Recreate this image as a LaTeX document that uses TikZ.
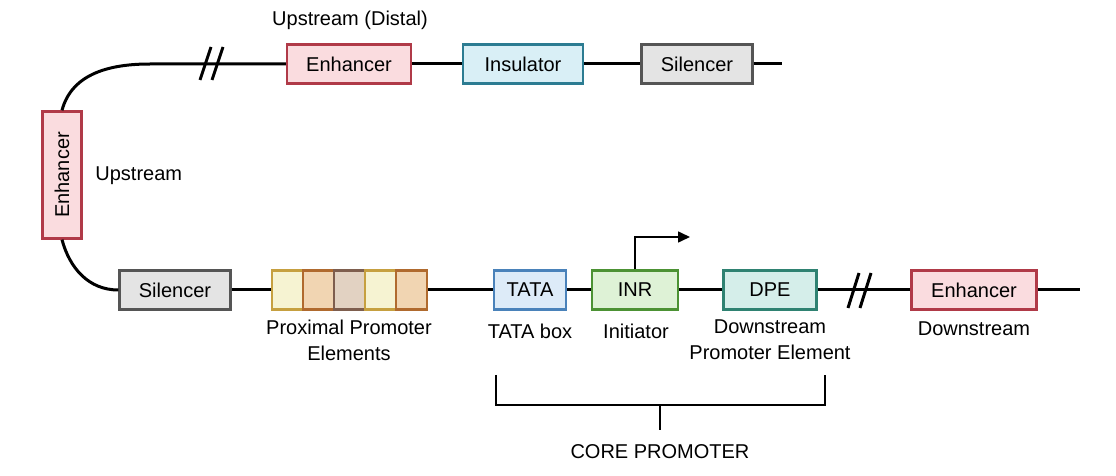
\documentclass[tikz,border=0pt]{standalone}
\usepackage{fontspec}
\setmainfont{Liberation Sans}
\usetikzlibrary{arrows.meta}

\definecolor{enhline}{HTML}{B03A48}
\definecolor{enhfill}{HTML}{FADCDF}
\definecolor{insline}{HTML}{2C7C92}
\definecolor{insfill}{HTML}{D9EFF6}
\definecolor{silline}{HTML}{555555}
\definecolor{silfill}{HTML}{E4E4E4}
\definecolor{tatline}{HTML}{4A82BA}
\definecolor{tatfill}{HTML}{DDEBF8}
\definecolor{inrline}{HTML}{4C9234}
\definecolor{inrfill}{HTML}{DEF2D6}
\definecolor{dpeline}{HTML}{2F8272}
\definecolor{dpefill}{HTML}{D5EEEA}
\definecolor{ylwline}{HTML}{C6A040}
\definecolor{ylwfill}{HTML}{F6F3D2}
\definecolor{orgline}{HTML}{B06A2E}
\definecolor{orgfill}{HTML}{F1D5B2}
\definecolor{brnline}{HTML}{7E5E4E}
\definecolor{brnfill}{HTML}{E2D2C2}

\tikzset{
  dna/.style={line width=1.5pt, black},
  elem/.style={draw, line width=1.2pt, minimum height=19.5pt, inner sep=0pt, font=\fontsize{10}{12}\selectfont},
  enhbox/.style={elem, draw=enhline, fill=enhfill},
  insbox/.style={elem, draw=insline, fill=insfill},
  silbox/.style={elem, draw=silline, fill=silfill},
  ppebox/.style={elem, minimum width=15.5pt},
  lbl/.style={font=\fontsize{10}{12}\selectfont, align=center, inner sep=0pt},
  brk/.style={line width=1.5pt, black}
}

\begin{document}
\begin{tikzpicture}[x=0.5pt, y=-0.5pt]
  \useasboundingbox (0,0) rectangle (1116,476);

  % Upstream (distal) line
  \node[enhbox, minimum width=62pt] (enhUp) at (349,64) {Enhancer};
  \node[insbox, minimum width=60pt] (insul) at (523,64) {Insulator};
  \node[silbox, minimum width=55.5pt] (silUp) at (697,64) {Silencer};
  \node[lbl] (lblDistal) at (350,20) {Upstream (Distal)};

  % Bent part on the left
  \node[enhbox, minimum width=63.5pt, rotate=90] (enhLeft) at (62,175) {Enhancer};
  \node[lbl, anchor=west] (lblUp) at (95,176) {Upstream};

  % Lower line
  \node[silbox, minimum width=55.5pt] (silDown) at (175,290) {Silencer};
  \node[ppebox, draw=ylwline, fill=ylwfill] (ppeA) at (287.5,290) {};
  \node[ppebox, draw=orgline, fill=orgfill] (ppeB) at (318.5,290) {};
  \node[ppebox, draw=brnline, fill=brnfill] (ppeC) at (349.5,290) {};
  \node[ppebox, draw=ylwline, fill=ylwfill] (ppeD) at (380.5,290) {};
  \node[ppebox, draw=orgline, fill=orgfill] (ppeE) at (411.5,290) {};
  \node[elem, draw=tatline, fill=tatfill, minimum width=36pt] (tata) at (530,290) {TATA};
  \node[elem, draw=inrline, fill=inrfill, minimum width=43pt] (inr) at (635,290) {INR};
  \node[elem, draw=dpeline, fill=dpefill, minimum width=46.5pt] (dpe) at (770,290) {DPE};
  \node[enhbox, minimum width=62.5pt] (enhDown) at (974,290) {Enhancer};

  \coordinate (bendUp) at (150,64);
  \coordinate (endUp) at (782,64);
  \coordinate (endDown) at (1080,290);
  \coordinate (tssEnd) at (690,237);

  % DNA strands
  \draw[dna] (enhLeft.east) to[out=75, in=180] (bendUp) -- (enhUp.west);
  \draw[dna] (enhUp.east) -- (insul.west);
  \draw[dna] (insul.east) -- (silUp.west);
  \draw[dna] (silUp.east) -- (endUp);
  \draw[dna] (enhLeft.west) to[out=-75, in=180] (silDown.west);
  \draw[dna] (silDown.east) -- (ppeA.west);
  \draw[dna] (ppeE.east) -- (tata.west);
  \draw[dna] (tata.east) -- (inr.west);
  \draw[dna] (inr.east) -- (dpe.west);
  \draw[dna] (dpe.east) -- (enhDown.west);
  \draw[dna] (enhDown.east) -- (endDown);

  % Breaks
  \draw[brk] (200,80) -- (211,47);
  \draw[brk] (212,80) -- (223,47);
  \draw[brk] (848,308) -- (859,273);
  \draw[brk] (860,308) -- (871,273);

  % Transcription start
  \draw[line width=0.8pt, -{Triangle[length=6pt, width=5.5pt]}] (inr.north) |- (tssEnd);

  % Labels under the lower line
  \node[lbl] (lblPpe) at (349,340) {Proximal Promoter\\[1pt]Elements};
  \node[lbl] (lblTata) at (530,331) {TATA box};
  \node[lbl] (lblInr) at (636,331) {Initiator};
  \node[lbl] (lblDpe) at (770,340) {Downstream\\[1pt]Promoter Element};
  \node[lbl] (lblDown) at (974,329) {Downstream};

  % Core promoter bracket
  \coordinate (brA) at (496,375);
  \coordinate (brB) at (825,375);
  \coordinate (brMid) at (660,405);
  \draw[line width=1pt] (brA) |- (brB |- brMid) -- (brB);
  \draw[line width=1pt] (brMid) -- ++(0,25);
  \node[lbl] (lblCore) at (660,452) {CORE PROMOTER};
\end{tikzpicture}
\end{document}
